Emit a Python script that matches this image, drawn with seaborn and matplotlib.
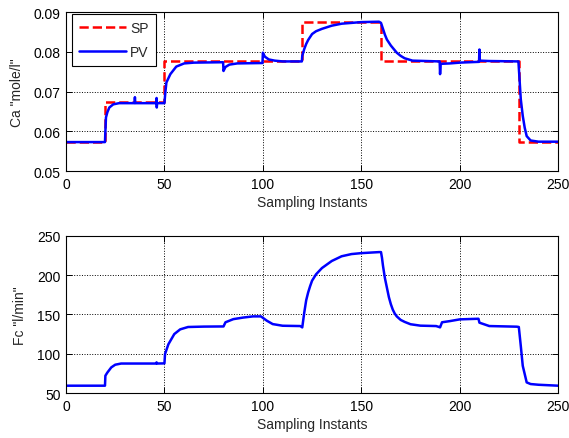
import matplotlib
matplotlib.use("Agg")
import matplotlib.pyplot as plt
import seaborn as sns
import numpy as np

# ---- data ----
sp_t = [0, 20, 50, 120, 160, 230, 250]
sp_ca = [0.0573, 0.0673, 0.0776, 0.0876, 0.0776, 0.0573, 0.0573]

pv_t = [0, 19.8, 20, 20.3, 21, 22, 24, 27, 34.8, 35, 35.2, 45.8, 46, 46.1, 46.3, 50,
        50.5, 51, 53, 56, 60, 65, 79.8, 80, 81, 83, 87, 99.8, 100, 101, 103, 106, 110,
        119.8, 120, 121, 122, 123, 125, 127, 130, 135, 140, 150, 159, 160, 161, 162, 163,
        165, 167, 168, 170, 172, 176,
        189.8, 190, 190.3, 195, 200, 205, 209.8, 210, 210.2, 215, 229.8, 231, 232, 233,
        234, 236, 240, 250]
pv_ca = [0.0573, 0.0573, 0.0600, 0.0635, 0.0648, 0.0660, 0.0668, 0.0671, 0.0671, 0.0686,
         0.0671, 0.0671, 0.0684, 0.0660, 0.0671, 0.0671,
         0.0700, 0.0723, 0.0744, 0.0763, 0.0771, 0.0773, 0.0774, 0.0752, 0.0762, 0.0768,
         0.0771, 0.0772, 0.0798, 0.0788, 0.0781, 0.0778, 0.0776,
         0.0776, 0.0790, 0.0807, 0.0820, 0.0830, 0.0845, 0.0852, 0.0858, 0.0866, 0.0871,
         0.0875, 0.0876, 0.0873, 0.0858, 0.0843, 0.0831, 0.0816, 0.0804, 0.0798, 0.0790,
         0.0784, 0.0778,
         0.0776, 0.0744, 0.0770, 0.0771, 0.0773, 0.0774, 0.0775, 0.0806, 0.0778, 0.0777,
         0.0776, 0.0681, 0.0639, 0.0609, 0.0588, 0.0577, 0.0574, 0.0574]

fc_t = [0, 19.8, 20, 21, 23, 25, 28, 45.8, 46, 46.2, 50, 50.3, 52, 55, 58, 62, 70, 80,
        81, 85, 90, 95, 99, 102, 105, 110, 119, 120, 121, 122, 123, 124, 125, 127, 130,
        135, 140, 145, 150, 159, 160, 160.5, 161, 162, 163, 164, 165, 166, 167, 168, 170,
        172, 175, 180, 188, 189.5, 190, 191, 195, 200, 209.5, 210, 215, 229, 230, 231,
        232, 234, 236, 240, 250]
fc_val = [59.3, 59.3, 72, 76, 82.6, 86, 87.5, 87.5, 89, 87.5, 87.7, 99.6, 112, 125, 131,
          134, 134.5, 134.7, 140, 144, 146, 147.5, 147.5, 142, 137.7, 135.6, 135.2, 133.5,
          152, 168, 178, 186, 193, 201, 209, 218, 224, 226.8, 228, 229.3, 229.3, 222, 212,
          196, 184, 172, 163, 156, 151, 147.5, 143, 140.5, 137.5, 135.7, 135.2, 134, 133.5,
          140, 141.5, 143.7, 144.5, 139.5, 135.2, 134.4, 134, 110, 84.6, 63.5, 61.4, 60.5,
          59.3]

sns.set_style("white")
plt.rcParams['font.family'] = ['Liberation Sans', 'DejaVu Sans']
FS = 10
plt.rcParams['font.size'] = FS

fig = plt.figure(figsize=(5.69, 4.39), dpi=100)
ax1 = fig.add_axes([0.116, 0.608, 0.865, 0.362])
ax2 = fig.add_axes([0.116, 0.1025, 0.865, 0.358])

sns.lineplot(x=sp_t, y=sp_ca, ax=ax1, color='red', linestyle='--', linewidth=1.8,
             drawstyle='steps-post', label='SP', estimator=None, sort=False)
sns.lineplot(x=pv_t, y=pv_ca, ax=ax1, color='blue', linewidth=1.8, label='PV',
             estimator=None, sort=False)
sns.lineplot(x=fc_t, y=fc_val, ax=ax2, color='blue', linewidth=1.8,
             estimator=None, sort=False)

for ax in (ax1, ax2):
    ax.set_xlim(0, 250)
    ax.set_xticks([0, 50, 100, 150, 200, 250])
    ax.grid(True, color='black', linestyle=':', linewidth=0.7)
    ax.tick_params(direction='in', length=4, width=0.7, top=True, right=True,
                   bottom=True, left=True, labelsize=FS, colors='black', pad=4)
    for s in ax.spines.values():
        s.set_color('black')
        s.set_linewidth(0.8)
    ax.set_xlabel('Sampling Instants', fontsize=FS, labelpad=3)

ax1.set_ylim(0.05, 0.09)
ax1.set_yticks([0.05, 0.06, 0.07, 0.08, 0.09])
ax1.set_yticklabels(['0.05', '0.06', '0.07', '0.08', '0.09'])
ax1.set_ylabel('Ca "mole/l"', fontsize=FS, labelpad=7)

ax2.set_ylim(50, 250)
ax2.set_yticks([50, 100, 150, 200, 250])
ax2.set_ylabel('Fc "l/min"', fontsize=FS, labelpad=7)

leg = ax1.legend(loc='upper left', bbox_to_anchor=(6 / 492, 1 - 2 / 159), fontsize=FS,
                 frameon=True, fancybox=False, edgecolor='black', framealpha=1,
                 borderaxespad=0, borderpad=0.5, labelspacing=0.72, handlelength=3.4,
                 handletextpad=0.3)
leg.get_frame().set_linewidth(0.8)

fig.savefig('out.png', dpi=100)
